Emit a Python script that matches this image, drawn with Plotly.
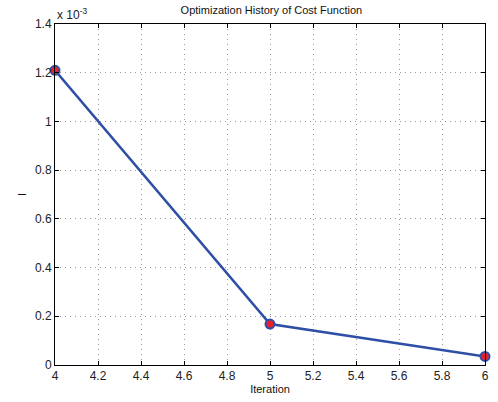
import plotly.graph_objects as go

# Cost function history (values in units of 1e-3)
iterations = [4, 5, 6]
cost_e3 = [1.21, 0.168, 0.035]

x_ticks = [4.0, 4.2, 4.4, 4.6, 4.8, 5.0, 5.2, 5.4, 5.6, 5.8, 6.0]
x_tick_text = ["4", "4.2", "4.4", "4.6", "4.8", "5", "5.2", "5.4", "5.6", "5.8", "6"]
y_ticks = [0.0, 0.2, 0.4, 0.6, 0.8, 1.0, 1.2, 1.4]
y_tick_text = ["0", "0.2", "0.4", "0.6", "0.8", "1", "1.2", "1.4"]

font_family = "Liberation Sans, Arial, sans-serif"

fig = go.Figure()
fig.add_trace(go.Scatter(
    x=iterations, y=cost_e3,
    mode="lines+markers",
    line=dict(color="#2f4fa6", width=2.5),
    marker=dict(size=9, color="#e8202a", line=dict(color="#2f4fa6", width=2)),
    cliponaxis=False,
    showlegend=False,
))

axis_common = dict(
    showline=True, linecolor="black", linewidth=1, mirror="allticks",
    ticks="inside", ticklen=4, tickcolor="black",
    showgrid=True, gridcolor="#9a9a9a", griddash="1px,4px", gridwidth=1,
    zeroline=False,
    tickfont=dict(family=font_family, size=12, color="#222"),
)

fig.update_layout(
    width=498, height=402,
    margin=dict(l=55, r=9, t=24, b=35),
    paper_bgcolor="white", plot_bgcolor="white",
    title=dict(text="Optimization History of Cost Function", x=0.545, xanchor="center",
               y=0.985, yanchor="top",
               font=dict(family=font_family, size=11, color="#111")),
    xaxis=dict(range=[4, 6], tickvals=x_ticks, ticktext=x_tick_text,
               title=dict(text="Iteration", standoff=2,
                          font=dict(family=font_family, size=11, color="#111")),
               **axis_common),
    yaxis=dict(range=[0, 1.4], tickvals=y_ticks, ticktext=y_tick_text,
               title=dict(text="I", standoff=6,
                          font=dict(family=font_family, size=11, color="#111")),
               **axis_common),
    annotations=[dict(
        text="x 10<sup>-3</sup>", xref="paper", yref="paper",
        x=0, y=1, xanchor="left", yanchor="bottom", showarrow=False,
        font=dict(family=font_family, size=12, color="#222"),
    )],
)

fig.write_html("out.html")
